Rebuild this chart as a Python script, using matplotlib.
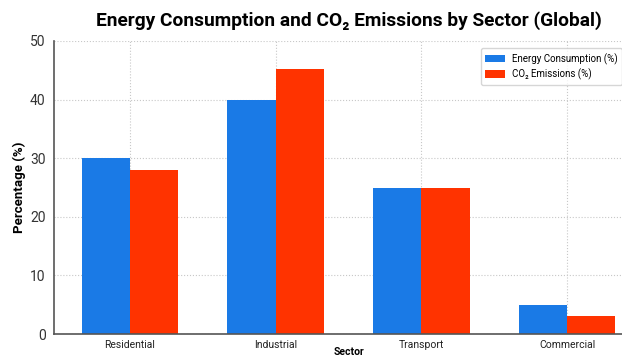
import matplotlib
matplotlib.use("Agg")
import matplotlib.pyplot as plt
import numpy as np

plt.rcParams['font.family'] = ['Roboto', 'DejaVu Sans']

# sector shares (%)
sectors = ['Residential', 'Industrial', 'Transport', 'Commercial']
energy = [30, 40, 25, 5]
co2 = [28, 45.3, 25, 3]

blue = '#1a7ae6'
red = '#ff3300'

fig = plt.figure(figsize=(6.22, 3.58), dpi=100)
ax = fig.add_axes([0.0868, 0.067, 0.947, 0.8185])

x = np.arange(len(sectors))
w = 0.33
ax.bar(x - w / 2, energy, w, color=blue, label='Energy Consumption (%)', zorder=2)
ax.bar(x + w / 2, co2, w, color=red, label='CO₂ Emissions (%)', zorder=2)

ax.set_xlim(-0.52, 3.52)
ax.set_ylim(0, 50)
ax.set_yticks(range(0, 51, 10))
ax.set_xticks(x)
ax.set_xticklabels(sectors, fontsize=7.5)
ax.tick_params(axis='y', labelsize=10, length=0, pad=6, labelcolor='#333333')
ax.tick_params(axis='x', length=0, pad=4, labelcolor='#222222')

ax.grid(True, linestyle=':', linewidth=0.8, color='#c8c8c8', zorder=0)
for s in ['top', 'right']:
    ax.spines[s].set_visible(False)
for s in ['left', 'bottom']:
    ax.spines[s].set_color('#555555')
    ax.spines[s].set_linewidth(1.2)

ax.set_ylabel('Percentage (%)', fontsize=9.5, fontweight='bold', labelpad=3)
ax.set_xlabel('Sector', fontsize=7.5, fontweight='bold', labelpad=-2)
ax.set_title('Energy Consumption and CO₂ Emissions by Sector (Global)',
             fontsize=13.8, fontweight='bold', pad=11)

ax.legend(loc='upper left', bbox_to_anchor=(0.716, 0.992), fontsize=7,
          handlelength=2.0, handleheight=0.8, handletextpad=0.7, frameon=True,
          edgecolor='#cccccc', fancybox=True, borderpad=0.5, labelspacing=0.4)

fig.savefig('out.png', dpi=100)
